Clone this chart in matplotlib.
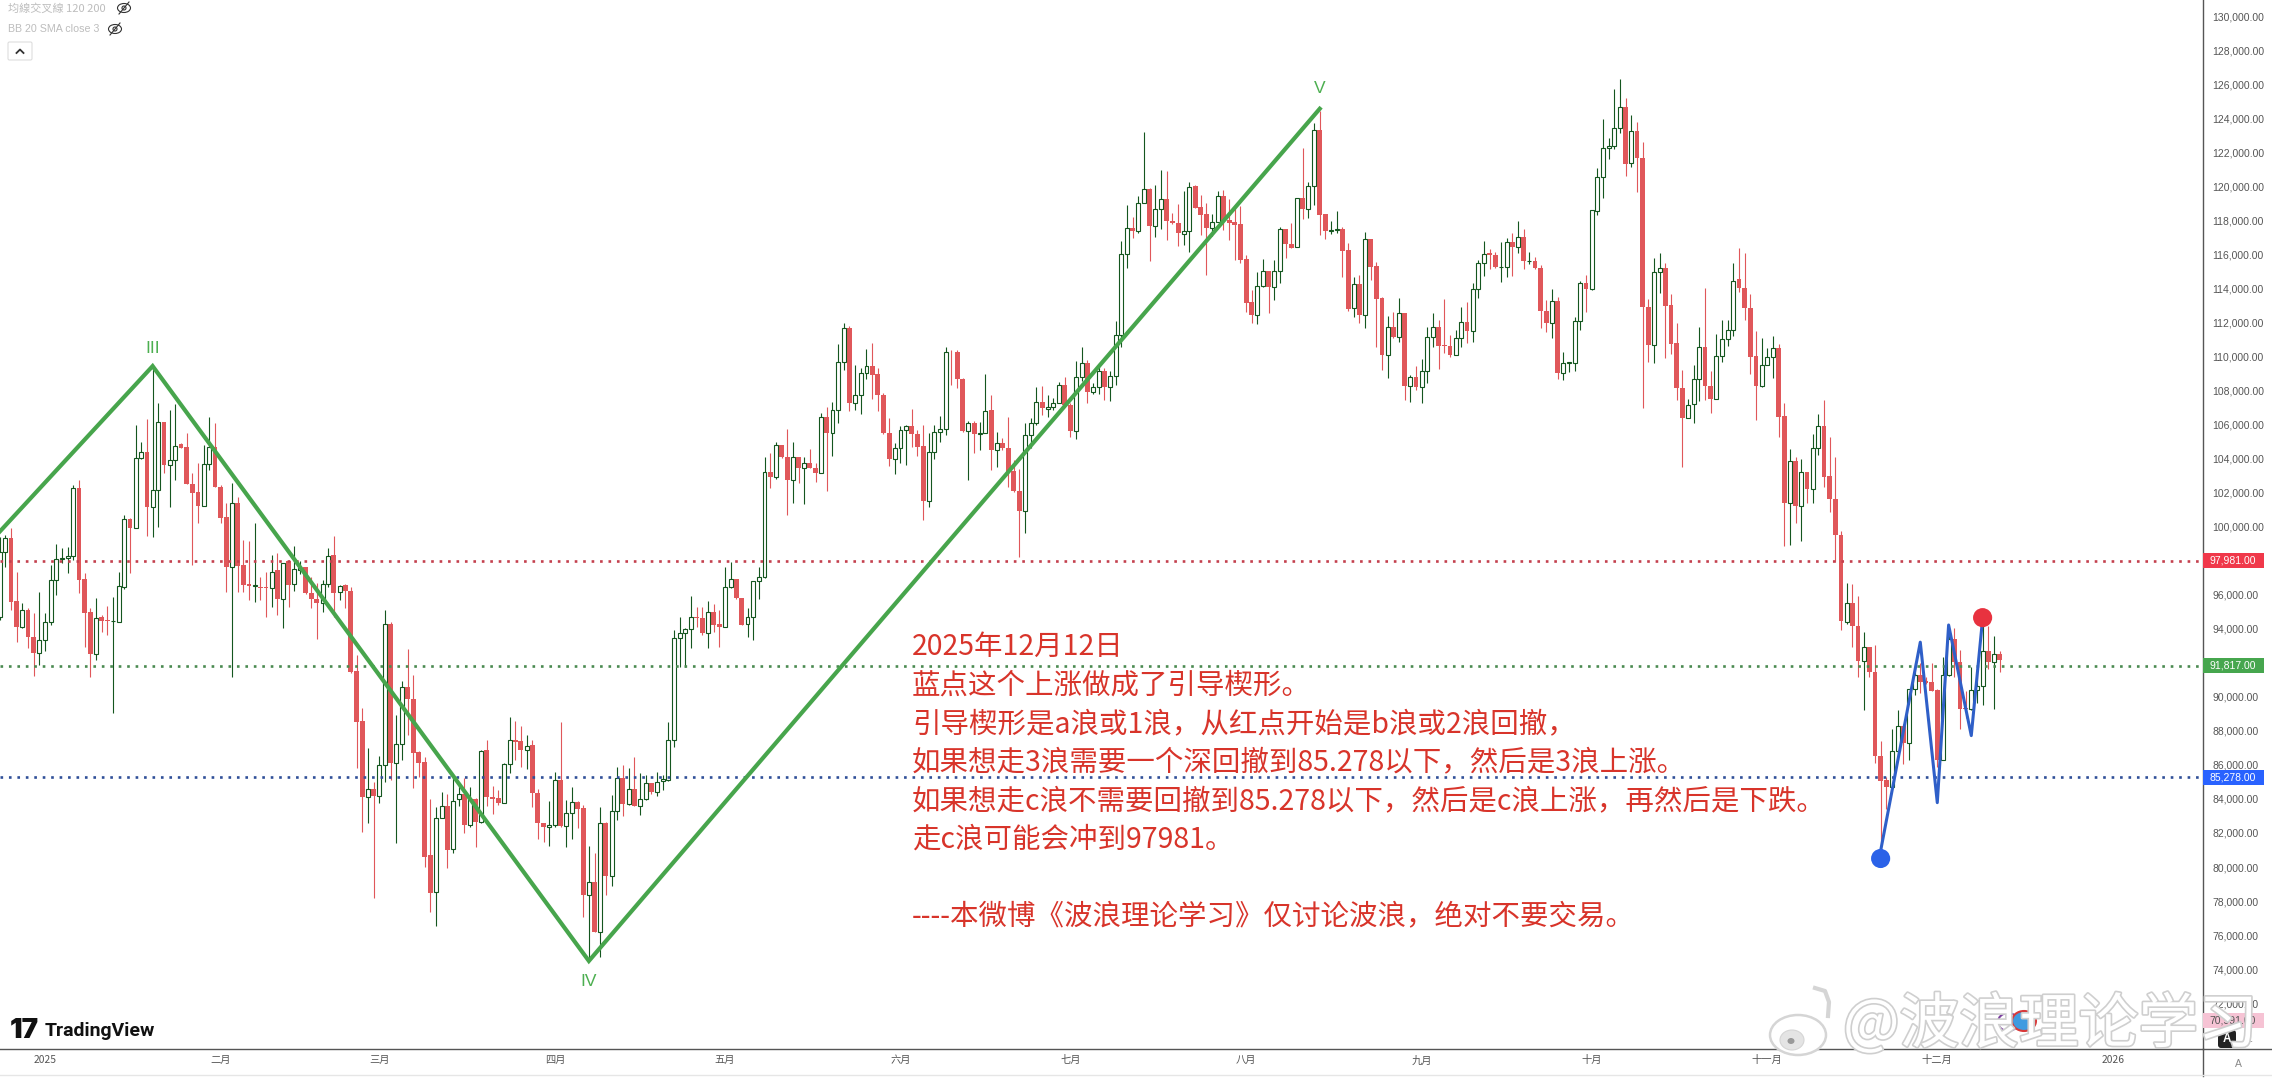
import numpy as np
import matplotlib
matplotlib.use('Agg')
import matplotlib.pyplot as plt
import matplotlib.patheffects as pe
from matplotlib.patches import Rectangle, Ellipse, FancyBboxPatch

plt.rcParams['font.family'] = ['Noto Sans CJK SC', 'DejaVu Sans']

# daily BTC candles, values in thousand USD, first bar is 8 days before 2025-01-01
first_day = -8

direction = ("UUDDUDDUUU" "UUUUDDDUDD" "UUUDUUDUUD" "UUDDDDUUDD" "DUDDDUDDUD" "UDUUDDDUUD"
             "UDDDDUDUUD" "UUDDDDDUUD" "UUDUDUDDDU" "UDDUDDDUUD" "UUDDUDUDUU" "DUDUUDUUUU"
             "UUUDDUDDUU" "DDUUUUDUDD" "UDUDDUDUUU" "DUUUDDDDUU" "UDDDUUUUDD" "DUDUUDUDDD"
             "DUUUDUUUDD" "UUDUUDUUUU" "DUUDUUDDDU" "UDDDUUDDDD" "DDUUDUUDDU" "DUUDDUUDDU"
             "DUDDDUDUDU" "DUUUDDDUUD" "UUUDDUUDUD" "UDDDUDUUUU" "DUUUUUUDUD" "DDUUDDDDUU"
             "UDDUUUUDDD" "DUUUDDUDUD" "UUDDDDUDDU" "DDDDUUDUUD" "DDDUUDDDUU" "UDUD")

body_top = [
    98.53,99.31,99.31,95.63,95.10,95.10,93.50,93.34,94.38,96.87,
    98.08,98.14,98.30,102.25,102.25,96.91,94.97,94.65,94.67,94.52,
    94.48,96.51,100.43,100.43,104.05,104.41,104.41,102.15,106.13,106.13,
    103.92,104.76,104.84,104.66,102.53,102.02,103.66,104.66,104.66,102.35,
    100.55,101.37,101.37,97.75,96.61,96.57,96.47,96.46,97.36,97.45,
    97.85,98.0,97.49,97.55,97.61,96.08,95.73,96.61,98.30,98.34,
    96.53,96.55,96.22,91.52,88.58,84.60,84.60,85.99,94.26,94.28,
    87.21,90.56,90.56,89.85,86.76,86.15,80.69,82.86,83.61,83.61,
    83.90,84.27,84.29,83.98,84.0,86.84,86.88,84.13,84.04,86.05,
    87.44,87.44,87.41,87.13,87.15,84.37,82.57,82.49,85.11,85.11,
    83.16,83.80,83.80,83.45,79.10,79.10,82.57,82.57,83.31,85.21,
    85.21,84.57,84.57,83.98,84.92,84.92,85.02,85.15,87.44,93.44,
    93.72,93.96,94.67,94.70,94.61,94.96,94.96,94.27,96.47,96.90,
    96.90,95.78,94.70,96.80,97.02,103.18,103.18,104.79,104.79,104.07,
    104.07,104.07,103.71,103.71,103.46,106.46,106.46,106.85,109.65,111.65,
    111.65,107.75,109.0,109.43,109.43,108.96,107.75,105.48,104.59,105.67,
    105.89,105.89,105.42,104.73,104.36,105.53,105.71,110.24,110.27,110.27,
    108.67,106.06,106.06,105.51,106.81,106.85,104.89,104.89,104.59,103.24,
    102.11,105.38,106.06,107.30,107.30,107.04,107.24,108.30,108.30,107.14,
    108.81,109.59,109.59,108.22,109.16,109.16,108.87,111.24,116.0,117.52,
    117.52,119.03,119.82,119.82,118.64,119.23,119.23,117.98,117.86,117.39,
    119.93,120.01,118.76,118.35,117.92,119.42,119.42,118.01,117.88,117.76,
    115.70,113.20,114.16,115.0,115.04,115.0,117.47,117.47,116.58,119.29,
    119.29,120.03,123.28,123.28,118.37,117.43,117.47,117.47,116.25,114.23,
    114.23,116.88,116.88,115.31,113.43,111.71,111.71,112.53,112.53,108.77,
    108.77,109.16,111.15,111.70,111.70,110.66,110.61,111.06,112.0,112.0,
    113.94,115.46,116.03,116.05,115.93,115.27,116.74,116.74,117.03,117.03,
    115.62,115.62,115.17,112.68,113.27,113.27,109.63,109.67,112.09,114.33,
    114.29,118.60,120.56,122.22,122.36,123.43,124.63,124.63,123.26,123.26,
    121.67,112.88,114.97,115.17,115.17,113.0,110.76,108.16,107.14,108.65,
    110.53,110.53,108.28,110.04,111.0,111.58,114.44,114.52,114.03,112.86,
    110.02,109.49,109.98,110.47,110.47,106.49,103.83,103.83,103.18,103.18,
    104.59,105.93,105.93,102.97,101.60,99.52,95.50,95.54,94.18,92.93,
    92.93,91.48,86.51,85.09,86.81,88.30,88.30,90.45,91.29,91.29,
    90.91,90.85,90.38,91.29,93.37,93.41,92.06,89.33,90.38,90.65,
    92.67,92.67,92.53,92.51]

body_bottom = [
    94.71,98.53,95.59,94.12,94.12,93.50,92.56,92.56,93.34,94.38,
    96.87,98.08,98.14,98.30,96.87,94.95,92.50,92.50,94.48,94.44,
    94.44,94.42,96.47,99.92,99.92,104.05,101.18,101.18,102.15,103.62,
    103.62,103.92,104.64,102.53,102.0,101.23,101.23,103.66,102.35,100.53,
    97.61,97.65,97.71,96.57,96.53,96.53,96.42,96.42,96.42,95.73,
    95.73,96.57,96.61,97.45,96.08,95.73,95.50,95.53,96.61,96.12,
    96.14,96.22,91.48,88.54,84.10,84.10,84.19,84.19,85.99,86.09,
    86.09,87.21,89.85,86.72,86.13,80.61,78.49,78.51,82.86,81.0,
    81.04,83.98,82.47,82.47,82.67,82.67,84.13,84.02,83.74,83.78,
    86.05,87.37,86.88,86.88,84.33,82.57,82.33,82.33,82.45,82.41,
    82.43,83.16,83.43,78.34,78.34,76.20,76.20,79.49,79.49,83.31,
    83.68,83.68,83.61,83.61,83.98,84.43,84.43,85.04,85.11,87.44,
    93.43,93.72,93.96,94.65,93.72,93.72,94.21,94.12,94.12,96.47,
    95.78,94.21,94.25,94.70,96.80,97.02,102.93,102.93,104.07,102.73,
    102.71,103.46,103.46,103.46,103.13,103.13,105.52,105.52,106.85,109.65,
    107.28,107.28,107.75,109.0,108.92,107.75,105.48,103.97,103.97,104.59,
    105.67,105.42,104.69,101.50,101.50,104.36,105.53,105.71,110.24,108.65,
    105.63,105.63,105.42,105.42,105.51,104.50,104.50,104.59,103.18,102.11,
    100.93,100.93,105.38,106.06,106.94,106.92,107.05,107.24,107.14,105.64,
    105.64,108.81,107.93,107.93,108.22,108.22,108.22,108.87,111.24,116.0,
    117.39,117.39,119.03,117.66,117.68,118.64,117.98,117.82,117.23,117.21,
    117.39,118.74,118.31,117.56,117.56,117.92,117.98,117.86,117.72,115.66,
    113.12,112.43,112.45,114.16,114.06,114.06,115.0,116.60,116.39,116.45,
    118.64,118.64,120.03,118.31,117.37,117.37,117.43,116.21,112.77,112.82,
    112.43,112.43,115.27,113.39,110.08,110.10,111.12,111.16,108.26,108.26,
    108.18,108.22,109.16,111.15,110.63,110.63,110.10,110.10,111.06,111.49,
    111.49,113.94,115.46,115.93,115.23,115.23,115.27,116.44,116.44,115.60,
    115.60,115.17,112.68,111.98,111.98,109.0,109.0,109.63,109.63,112.09,
    113.96,113.96,118.56,120.56,122.22,122.36,123.43,121.30,121.34,121.67,
    112.88,110.66,110.66,114.97,112.96,110.72,108.16,106.40,106.40,107.18,
    108.65,108.26,107.47,107.47,110.04,111.0,111.58,114.03,112.86,109.98,
    108.26,108.26,109.49,109.98,106.45,101.40,101.40,101.22,101.22,102.22,
    102.22,104.59,102.93,101.60,99.52,94.44,94.42,94.14,92.08,92.08,
    91.46,86.51,85.05,84.69,84.69,86.81,87.31,87.31,90.45,90.85,
    90.83,90.34,86.26,86.30,91.29,92.06,89.29,89.29,89.29,90.38,
    90.65,92.02,92.06,92.16]

wick_high = [
    99.41,99.51,99.90,97.36,95.50,95.20,94.91,96.18,94.91,97.75,
    98.98,98.73,98.82,102.45,102.74,97.26,95.20,95.79,94.81,95.34,
    95.89,97.36,100.69,100.49,105.97,105.0,106.31,109.3,107.25,106.17,
    106.85,107.21,104.90,105.48,103.17,103.72,104.80,106.46,106.07,102.45,
    101.37,102.55,101.76,99.22,99.18,100.24,97.06,97.32,98.34,98.47,
    97.89,98.04,98.86,98.0,97.65,97.06,96.67,96.87,98.73,99.45,
    96.57,96.63,96.47,92.46,89.32,86.97,85.02,86.52,95.10,94.42,
    88.93,90.95,92.79,91.28,86.82,86.48,83.98,83.55,84.39,84.27,
    85.31,84.88,85.21,84.68,84.04,86.88,87.46,84.76,84.53,86.09,
    88.80,88.60,88.29,87.76,87.46,84.57,82.61,83.90,85.60,88.54,
    83.94,84.72,83.90,83.65,81.24,80.80,83.55,82.67,84.23,85.86,
    85.99,85.80,86.48,85.51,85.41,84.96,85.60,85.41,88.54,93.93,
    94.70,94.02,95.92,95.25,95.25,95.64,95.45,95.10,97.64,97.94,
    96.90,95.82,95.19,96.80,97.64,104.10,104.34,104.95,104.79,105.71,
    104.99,104.11,104.11,104.56,103.71,106.65,107.04,107.34,110.72,111.94,
    111.78,109.49,109.29,110.41,110.76,109.29,107.83,106.36,104.93,105.91,
    105.97,106.89,105.67,105.97,105.48,105.97,106.49,110.57,110.37,110.37,
    108.71,106.22,106.22,106.16,108.96,107.73,105.53,105.18,106.46,103.91,
    103.36,106.06,106.36,108.18,108.28,107.73,107.54,108.52,108.81,107.24,
    109.75,110.57,109.79,108.46,109.63,109.30,109.16,112.08,116.80,118.90,
    118.21,119.42,123.17,119.87,120.07,120.95,120.91,118.45,118.95,119.74,
    120.27,120.07,119.48,118.99,118.37,119.74,119.78,119.23,118.76,118.84,
    115.96,113.90,114.98,115.70,115.04,115.66,117.62,117.47,117.86,119.29,
    122.22,120.27,123.69,124.40,118.37,117.98,118.56,117.58,116.68,114.69,
    114.78,117.33,116.92,115.57,113.47,112.37,112.63,113.41,112.53,108.90,
    109.43,109.82,111.74,112.53,112.13,113.35,111.25,111.55,112.92,113.21,
    114.33,115.66,116.78,116.29,116.15,116.74,116.93,117.27,117.97,117.46,
    116.11,115.82,115.37,113.31,113.94,113.47,110.27,109.69,112.33,114.44,
    114.78,118.60,121.04,123.96,122.81,125.69,126.27,125.16,124.18,123.79,
    122.61,113.35,115.76,116.09,115.46,113.66,111.94,109.20,107.47,109.49,
    111.70,114.0,109.16,111.31,112.13,112.13,115.50,116.34,116.09,113.66,
    111.51,111.06,110.47,111.19,110.70,107.24,104.53,104.10,104.0,103.22,
    105.44,106.61,107.43,105.28,104.06,99.76,96.71,96.61,95.94,93.78,
    92.93,93.07,87.42,85.29,88.12,89.23,88.43,90.45,91.96,91.96,
    91.15,92.0,90.45,92.36,93.78,94.02,92.73,90.34,91.76,91.76,
    94.69,94.18,93.58,92.67]

wick_low = [
    94.52,97.65,95.10,93.24,94.03,92.85,91.23,91.87,92.71,94.22,
    95.99,97.85,97.26,98.04,96.12,92.95,91.19,92.17,93.83,93.63,
    89.03,94.38,96.34,97.26,99.90,104.0,99.47,99.41,99.96,103.13,
    101.18,102.74,104.60,102.49,97.75,100.20,101.21,103.33,102.31,100.20,
    96.18,91.19,96.18,96.18,95.69,95.59,95.69,94.71,95.26,94.81,
    94.03,95.26,96.24,97.22,96.04,95.20,93.38,95.01,96.47,94.71,
    95.69,95.24,91.38,85.84,82.08,82.57,78.16,83.74,85.02,85.11,
    81.43,86.29,87.76,84.62,85.31,80.02,77.38,76.54,82.86,79.92,
    80.81,83.59,81.98,82.37,81.16,82.57,83.59,83.12,83.64,83.78,
    85.51,86.29,85.86,85.74,83.55,81.63,81.49,81.24,82.37,82.37,
    81.20,81.63,82.27,77.08,74.60,76.20,74.70,78.36,78.89,82.76,
    83.0,83.64,83.59,83.06,83.94,84.27,84.17,84.53,85.07,87.03,
    91.77,91.77,92.84,94.08,93.63,92.84,93.82,92.94,94.12,96.37,
    95.72,94.21,93.49,93.33,95.74,96.96,102.24,102.79,104.01,100.68,
    101.36,102.54,101.32,103.42,102.60,103.13,102.09,104.16,106.06,109.20,
    106.81,106.85,106.61,108.67,107.47,106.79,105.44,103.58,103.09,103.71,
    103.62,104.69,104.14,100.38,101.13,103.95,104.99,105.38,108.32,108.12,
    105.57,102.73,104.30,104.50,105.48,103.32,103.52,104.50,102.34,102.05,
    98.19,99.60,104.59,105.97,106.55,106.42,106.85,107.24,107.09,105.25,
    105.13,108.57,107.24,107.77,107.79,107.44,107.40,108.32,110.57,115.18,
    116.94,117.23,118.99,115.63,117.04,117.47,116.84,117.78,116.49,116.55,
    116.15,118.70,117.13,114.78,117.09,117.92,117.43,116.84,115.66,115.47,
    112.63,111.94,111.90,114.10,112.57,113.31,114.29,115.76,116.35,116.45,
    118.05,118.11,118.90,117.13,116.88,117.19,117.23,114.69,112.69,112.33,
    111.94,111.65,114.49,110.57,109.20,108.71,111.08,110.87,107.43,107.34,
    108.02,107.24,108.45,110.53,109.24,110.18,109.98,110.08,110.57,110.76,
    110.86,113.41,114.72,115.11,115.17,114.35,114.68,114.72,116.09,115.11,
    115.42,115.15,111.68,111.45,111.06,108.65,108.61,109.10,109.16,111.55,
    112.62,113.90,118.30,119.28,121.57,122.16,123.10,120.59,121.10,119.67,
    106.98,109.69,109.63,113.70,109.92,110.14,107.43,103.48,106.36,106.06,
    107.39,107.43,106.65,107.47,109.69,110.61,111.19,113.80,112.13,108.96,
    106.26,108.22,109.49,108.71,105.28,98.85,98.91,100.23,99.17,101.36,
    101.36,104.20,102.34,100.87,97.90,93.94,94.28,92.93,91.15,89.23,
    91.19,86.10,80.45,83.38,84.65,86.30,86.06,86.30,90.10,90.24,
    90.75,90.34,85.90,86.26,91.25,91.15,88.08,88.73,89.23,89.64,
    89.54,91.66,89.29,91.46]

# elliott wave drawing
wave_days = [-8, 19, 96, 225]
wave_prices = [99.7, 109.43, 74.48, 124.55]
wave_names = ['III', 'IV', 'V']
wave_name_days = [19, 96, 225]
wave_name_prices = [110.45, 73.25, 125.75]

blue_days = [324, 331, 334, 336, 340, 342]
blue_prices = [80.95, 93.21, 83.78, 94.22, 87.72, 94.59]

dot_days = [324, 342]
dot_prices = [80.5, 94.65]
dot_colors = ['#2b62e8', '#e8323f']

levels = [97.981, 91.817, 85.278]
level_colors = ['#c4404e', '#4a8a50', '#2f4f98']
level_tags = ['97,981.00', '91,817.00', '85,278.00']
tag_colors = ['#f0384a', '#46a64e', '#2962ff']

y_ticks = list(range(72, 131, 2))
month_days = [0, 31, 59, 90, 120, 151, 181, 212, 243, 273, 304, 334, 365]
month_labels = ['2025', '二月', '三月', '四月', '五月', '六月', '七月', '八月', '九月', '十月', '十一月', '十二月', '2026']

note_lines = ['2025年12月12日',
              '蓝点这个上涨做成了引导楔形。',
              '引导楔形是a浪或1浪，从红点开始是b浪或2浪回撤，',
              '如果想走3浪需要一个深回撤到85.278以下，然后是3浪上涨。',
              '如果想走c浪不需要回撤到85.278以下，然后是c浪上涨，再然后是下跌。',
              '走c浪可能会冲到97981。',
              '----本微博《波浪理论学习》仅讨论波浪，绝对不要交易。']

W, H = 2272, 1080
RED = '#e0575a'
DARK_GREEN = '#14561f'
GREY = '#555555'

fig = plt.figure(figsize=(W / 100, H / 100), dpi=100, facecolor='white')
ax = fig.add_axes([0, 1 - 1049 / H, 2203 / W, 1049 / H])
ax.set_xlim(-7.94, 380.9)
ax.set_ylim(130 - 1033 / 17.02, 130 + 16 / 17.02)

days = first_day + np.arange(len(body_top))
top = np.array(body_top)
bottom = np.array(body_bottom)
up = np.array(list(direction)) == 'U'

ax.vlines(days[up], np.array(wick_low)[up], np.array(wick_high)[up], color=DARK_GREEN, lw=0.8, zorder=2)
ax.vlines(days[~up], np.array(wick_low)[~up], np.array(wick_high)[~up], color=RED, lw=0.8, zorder=2)
ax.bar(days[~up], (top - bottom)[~up], bottom=bottom[~up], width=0.86, color=RED, lw=0, zorder=3)
ax.bar(days[up], (top - bottom)[up], bottom=bottom[up], width=0.7, facecolor='white',
       edgecolor=DARK_GREEN, lw=0.8, zorder=3)

for lv, c in zip(levels, level_colors):
    ax.axhline(lv, color=c, lw=1.9, ls=(0, (1, 2.2)), zorder=4)

ax.plot(wave_days, wave_prices, color='#47a54c', lw=3.0, zorder=5, solid_joinstyle='miter')
ax.plot(blue_days, blue_prices, color='#2f5fc8', lw=2.2, zorder=5)
ax.scatter(dot_days, dot_prices, s=190, c=dot_colors, lw=0, zorder=6)
for name, d, p in zip(wave_names, wave_name_days, wave_name_prices):
    ax.text(d, p, name, color='#4caf50', fontsize=12.5, ha='center', va='center',
            family='Liberation Sans', zorder=6)

ax.yaxis.tick_right()
ax.set_yticks(y_ticks)
ax.set_yticklabels(['{:,.2f}'.format(v * 1000) for v in y_ticks], family='Liberation Sans',
                   fontsize=7.5, color=GREY)
ax.set_xticks(month_days)
ax.set_xticklabels(month_labels, fontsize=7.4, color=GREY)
ax.tick_params(axis='both', length=0)
ax.tick_params(axis='y', pad=6.5)
ax.tick_params(axis='x', pad=4.5)
for s in ['top', 'left']:
    ax.spines[s].set_visible(False)
for s in ['right', 'bottom']:
    ax.spines[s].set_color('#555555')
    ax.spines[s].set_linewidth(1.0)

# price tags on the axis
ty = ax.get_yaxis_transform()
tag_right = 2264 / 2203
for lv, t, c in zip(levels, level_tags, tag_colors):
    ax.add_patch(Rectangle((1.0, lv - 0.44), tag_right - 1, 0.88, transform=ty, facecolor=c,
                           lw=0, clip_on=False, zorder=7))
    ax.text(2209 / 2203, lv, t, transform=ty, color='white', fontsize=7.5, va='center', ha='left',
            family='Liberation Sans', zorder=8)
ax.add_patch(Rectangle((1.0, 70.991 - 0.44), tag_right - 1, 0.88, transform=ty, facecolor='#f6c3d4',
                       lw=0, clip_on=False, zorder=7))
ax.text(2209 / 2203, 70.991, '70,991.00', transform=ty, color=GREY, fontsize=7.5, va='center',
        ha='left', family='Liberation Sans', zorder=8)

# overlay in pixels for chrome, notes and watermark
ov = fig.add_axes([0, 0, 1, 1], zorder=10)
ov.set_xlim(0, W)
ov.set_ylim(H, 0)
ov.axis('off')
ov.patch.set_alpha(0)

ov.plot([2203, 2203], [1049, 1076], color='#555555', lw=1.0)
ov.plot([2203, W], [1049, 1049], color='#555555', lw=1.0)
ov.plot([0, W], [1074.5, 1074.5], color='#e6e6e6', lw=1.0)

ov.text(8, 9, '均線交叉線 120 200', color='#bdbdbd', fontsize=8.0, va='center')
ov.text(8, 29, 'BB 20 SMA close 3', color='#bdbdbd', fontsize=7.7, va='center', family='Liberation Sans')
for ex, ey in [(124, 8), (115, 29)]:
    ov.add_patch(Ellipse((ex, ey), 13, 9, fill=False, ec='#333333', lw=0.8))
    ov.add_patch(Ellipse((ex, ey), 4, 4, fill=False, ec='#333333', lw=0.8))
    ov.plot([ex - 5, ex + 5], [ey + 6, ey - 6], color='#333333', lw=0.8)
ov.add_patch(FancyBboxPatch((8, 42), 24, 18, boxstyle='round,pad=0,rounding_size=1.5', fc='white',
                            ec='#dddddd', lw=0.8))
ov.plot([16.5, 20, 23.5], [53, 49.5, 53], color='#333333', lw=1.3)

# notes
note_y = [647, 686, 725, 763, 802, 840, 916]
for line, y in zip(note_lines, note_y):
    ov.text(912, y, line, color='#d8342a', fontsize=20.5, va='center', ha='left')

# tradingview logo
ov.text(10, 1031, '17', color='#111111', fontsize=20, fontweight='black', va='center',
        family='Inter')
ov.text(45, 1031, 'TradingView', color='#111111', fontsize=14, fontweight='bold', va='center',
        family='Roboto')

# auto button and scale corner
ov.add_patch(FancyBboxPatch((2218, 1030), 18, 18, boxstyle='round,pad=0,rounding_size=3', fc='#222222',
                            ec='none'))
ov.text(2227, 1039, 'A', color='white', fontsize=8.5, ha='center', va='center', fontweight='bold',
        family='Liberation Sans')
ov.text(2249, 1039, 'L', color='#999999', fontsize=8.5, ha='center', va='center', family='Liberation Sans')
ov.text(2238, 1064, 'A', color='#888888', fontsize=7.5, ha='center', va='center', family='Liberation Sans')

# weibo watermark
stroke = [pe.Stroke(linewidth=2.4, foreground='#cfcfcf'), pe.Normal()]
ov.text(1843, 1026, '@波浪理论学习', color='white', fontsize=43, va='center', ha='left',
        path_effects=stroke)
ov.add_patch(Ellipse((1798, 1035), 56, 40, fc='white', ec='#d5d5d5', lw=1.8))
ov.add_patch(Ellipse((1792, 1040), 24, 20, fc='#e4e4e4', ec='#d5d5d5', lw=0.8))
ov.add_patch(Ellipse((1791, 1041), 7, 6, fc='#999999', ec='none'))
ov.plot([1815, 1825, 1829, 1828], [988, 991, 1002, 1016], color='#d5d5d5', lw=3)
ov.add_patch(Ellipse((2008, 1022), 20, 18, fc='white', ec='#7b3fa0', lw=1.5))
ov.add_patch(Ellipse((2024, 1021), 24, 20, fc='#3f9be0', ec='#d83a3a', lw=1.5))

fig.savefig('out.png', dpi=100)
